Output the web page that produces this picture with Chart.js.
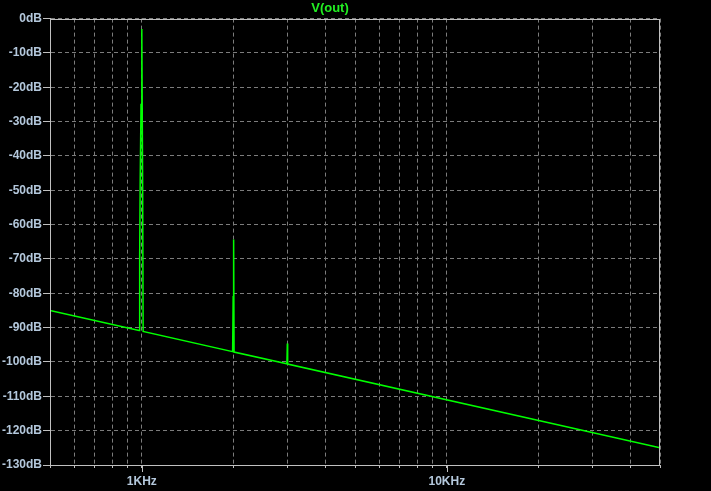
<!DOCTYPE html>
<html>
<head>
<meta charset="utf-8">
<script src="https://cdn.jsdelivr.net/npm/chart.js@4.4.1/dist/chart.umd.min.js"></script>
<style>
html,body{margin:0;padding:0;background:#000;}
canvas{display:block;}
</style>
</head>
<body>
<canvas id="c" width="711" height="491"></canvas>
<script>
// Frequencies (Hz) and magnitudes (dB)
const freqs = [500, 980, 984, 988, 994, 1000, 1006, 1010, 1985, 1993, 2000, 2007, 2990, 3000, 3005, 3010, 50000];
const dbValues = [-85, -90.8, -69, -47, -25, -3, -47, -91.1, -97, -81, -64.3, -97.1, -100.5, -94.6, -98, -100.6, -125];

const xTickValues = [500, 600, 700, 800, 900, 1000, 2000, 3000, 4000, 5000, 6000, 7000, 8000, 9000, 10000, 20000, 30000, 40000, 50000];
const xTickLabels = {1000: '1KHz', 10000: '10KHz'};
const xMajorTicks = [1000, 10000];
const yTickValues = [0, -10, -20, -30, -40, -50, -60, -70, -80, -90, -100, -110, -120, -130];

const FONT = {family: "'Liberation Sans', Arial, sans-serif", size: 12, weight: 'bold'};
const LABEL_COLOR = '#b4c8dc';
const FRAME = '#c0c0c0';
const GRID = '#7c7c7c';

const framePlugin = {
  id: 'frame',
  beforeDraw(chart) {
    const ctx = chart.ctx;
    ctx.save();
    ctx.fillStyle = '#000';
    ctx.fillRect(0, 0, chart.width, chart.height);
    ctx.restore();
  },
  afterDraw(chart) {
    const {ctx, chartArea: a} = chart;
    const xs = chart.scales.x;
    ctx.save();
    ctx.strokeStyle = FRAME;
    ctx.lineWidth = 1;
    ctx.setLineDash([]);
    ctx.strokeRect(Math.round(a.left) + 0.5, Math.round(a.top) + 0.5, Math.round(a.right - a.left) - 1, Math.round(a.bottom - a.top));
    ctx.beginPath();
    xMajorTicks.forEach(v => {
      const px = Math.round(xs.getPixelForValue(v)) + 0.5;
      ctx.moveTo(px, a.bottom);
      ctx.lineTo(px, a.bottom + 7);
    });
    ctx.stroke();
    ctx.restore();
  }
};

new Chart(document.getElementById('c'), {
  type: 'line',
  data: {
    datasets: [{
      data: freqs.map((f, i) => ({x: f, y: dbValues[i]})),
      borderColor: '#00ff00',
      borderWidth: 1.5,
      pointRadius: 0,
      tension: 0,
      fill: false
    }]
  },
  options: {
    responsive: false,
    animation: false,
    layout: {padding: {left: 0, right: 51, top: 0, bottom: 0}},
    plugins: {
      legend: {display: false},
      tooltip: {enabled: false},
      title: {
        display: true,
        text: 'V(out)',
        color: '#22ee22',
        font: {family: "'Liberation Sans', Arial, sans-serif", size: 13, weight: 'bold'},
        padding: {top: 1, bottom: 2}
      }
    },
    scales: {
      x: {
        type: 'logarithmic',
        min: 500,
        max: 50000,
        afterBuildTicks(scale) { scale.ticks = xTickValues.map(v => ({value: v})); },
        afterFit(scale) { scale.height = 26; },
        ticks: {
          autoSkip: false,
          maxRotation: 0,
          minRotation: 0,
          padding: 6,
          color: LABEL_COLOR,
          font: FONT,
          callback: (v) => xTickLabels[v] || ''
        },
        grid: {
          color: GRID,
          lineWidth: 1,
          tickLength: 3,
          tickColor: FRAME,
          tickBorderDash: []
        },
        border: {display: true, color: FRAME, dash: [4, 3]}
      },
      y: {
        type: 'linear',
        min: -130,
        max: 0,
        afterBuildTicks(scale) { scale.ticks = yTickValues.map(v => ({value: v})); },
        afterFit(scale) { scale.width = 50; },
        ticks: {
          padding: 1,
          color: LABEL_COLOR,
          font: FONT,
          callback: (v) => v + 'dB'
        },
        grid: {
          color: GRID,
          lineWidth: 1,
          tickLength: 7,
          tickColor: FRAME,
          tickBorderDash: []
        },
        border: {display: true, color: FRAME, dash: [4, 3]}
      }
    }
  },
  plugins: [framePlugin]
});
</script>
</body>
</html>
